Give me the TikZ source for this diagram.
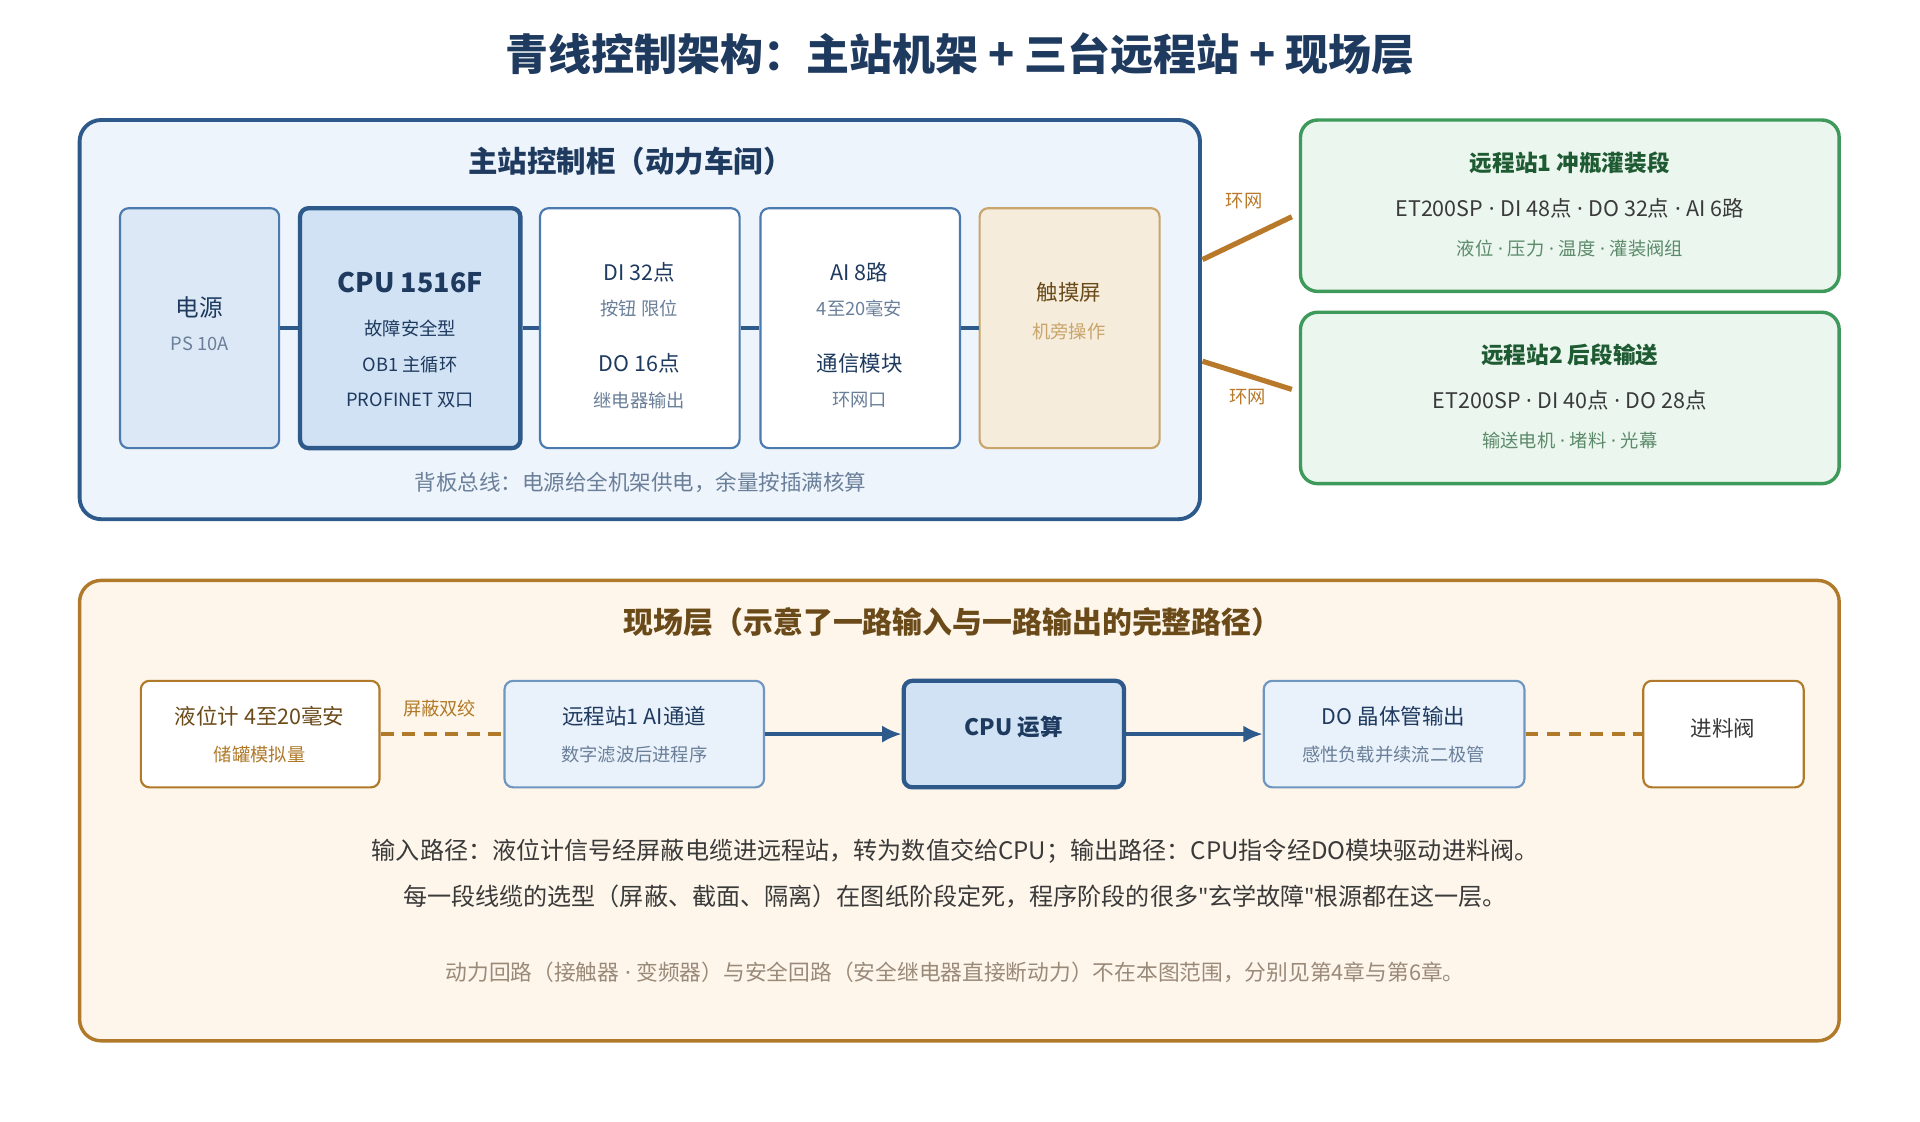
\documentclass[tikz,border=0pt]{standalone}
\usepackage{fontspec}
\setmainfont{Noto Sans CJK SC}
\newfontfamily\latinfont{Noto Sans}
\newcommand{\sep}{{\latinfont\ ·\ }}
\usetikzlibrary{arrows.meta}
\definecolor{navy}{HTML}{1F3A5F}
\definecolor{mainbd}{HTML}{2D5A8A}
\definecolor{mainbg}{HTML}{EEF4FB}
\definecolor{modbg}{HTML}{DCE8F5}
\definecolor{cpubg}{HTML}{D0E2F4}
\definecolor{modbd}{HTML}{4A7AAE}
\definecolor{subtx}{HTML}{6A7F99}
\definecolor{hmibg}{HTML}{F5ECDC}
\definecolor{hmibd}{HTML}{C9A56B}
\definecolor{grnbg}{HTML}{EAF6EE}
\definecolor{grnbd}{HTML}{3E9A5A}
\definecolor{grntx}{HTML}{1E5A32}
\definecolor{grnsub}{HTML}{5C8A6A}
\definecolor{ring}{HTML}{B87A2A}
\definecolor{fieldbg}{HTML}{FEF6EA}
\definecolor{fieldbd}{HTML}{B07A2A}
\definecolor{brtx}{HTML}{6B4A1A}
\definecolor{brsub}{HTML}{B07A2A}
\definecolor{dark}{HTML}{3A3A3A}
\definecolor{grey}{HTML}{9A8A7A}
\definecolor{chbg}{HTML}{E9F1FA}
\definecolor{chbd}{HTML}{6F96C0}
\tikzset{
  box/.style={draw, rounded corners=4pt, line width=1pt},
  main/.style={font=\fontsize{11}{13}\selectfont, text=navy},
  sub/.style={font=\fontsize{8.5}{10}\selectfont, text=subtx},
  link/.style={line width=2pt, draw=mainbd},
  flow/.style={-{Latex[length=9pt,width=8pt]}, line width=1.6pt, draw=mainbd},
  cable/.style={line width=1.6pt, draw=fieldbd, dash pattern=on 6pt off 4pt}
}
\begin{document}
\begin{tikzpicture}[x=0.02cm, y=-0.02cm]
\useasboundingbox[fill=white] (0,0) rectangle (1568,916);
% title
\node[font=\fontsize{20}{24}\selectfont\bfseries, text=navy] (title) at (784,44) {青线控制架构：主站机架 + 三台远程站 + 现场层};

% main cabinet
\draw[box, line width=1.8pt, draw=mainbd, fill=mainbg, rounded corners=10pt] (65,98) rectangle (980,424);
\node[font=\fontsize{13.7}{16}\selectfont\bfseries, text=navy] (cabt) at (515,132) {主站控制柜（动力车间）};
\node[box, fill=modbg, draw=modbd, minimum width=2.6cm, minimum height=3.92cm] (psu) at (163,268) {};
\node[box, fill=cpubg, draw=mainbd, line width=2pt, minimum width=3.6cm, minimum height=3.92cm] (cpu) at (335,268) {};
\node[box, fill=white, draw=modbd, minimum width=3.26cm, minimum height=3.92cm] (dido) at (522.5,268) {};
\node[box, fill=white, draw=modbd, minimum width=3.26cm, minimum height=3.92cm] (aicom) at (702.5,268) {};
\node[box, fill=hmibg, draw=hmibd, minimum width=2.94cm, minimum height=3.92cm] (hmi) at (873.5,268) {};
\draw[link] (psu) -- (cpu);
\draw[link] (cpu) -- (dido);
\draw[link] (dido) -- (aicom);
\draw[link] (aicom) -- (hmi);

\node[main] (psu-a) at (163,251) {电源};
\node[sub] (psu-b) at (163,281) {PS 10A};
\node[main, font=\fontsize{12.5}{15}\selectfont\bfseries] (cpu-a) at (335,231) {CPU 1516F};
\node[sub, text=navy] (cpu-b) at (335,268) {故障安全型};
\node[sub, text=navy] (cpu-c) at (335,298) {OB1 主循环};
\node[sub, text=navy] (cpu-d) at (335,327) {PROFINET 双口};
\node[main, font=\fontsize{10}{12}\selectfont] (di-a) at (522,222) {DI 32点};
\node[sub] (di-b) at (522,252) {按钮 限位};
\node[main, font=\fontsize{10}{12}\selectfont] (do-a) at (522,297) {DO 16点};
\node[sub] (do-b) at (522,327) {继电器输出};
\node[main, font=\fontsize{10}{12}\selectfont] (ai-a) at (702,222) {AI 8路};
\node[sub] (ai-b) at (702,252) {4至20毫安};
\node[main, font=\fontsize{10}{12}\selectfont] (com-a) at (702,297) {通信模块};
\node[sub] (com-b) at (702,327) {环网口};
\node[main, font=\fontsize{10}{12}\selectfont, text=brtx] (hmi-a) at (873,239) {触摸屏};
\node[sub, text=hmibd] (hmi-b) at (873,271) {机旁操作};
\node[sub, font=\fontsize{10}{11}\selectfont] (bus) at (523,394) {背板总线：电源给全机架供电，余量按插满核算};

% remote stations
\node[box, line width=1.6pt, draw=grnbd, fill=grnbg, rounded corners=8pt, minimum width=8.8cm, minimum height=2.8cm] (rs1) at (1282,168) {};
\node[box, line width=1.6pt, draw=grnbd, fill=grnbg, rounded corners=8pt, minimum width=8.8cm, minimum height=2.8cm] (rs2) at (1282,325) {};
\node[font=\fontsize{10.5}{12}\selectfont\bfseries, text=grntx] (rs1-a) at (1282,133) {远程站1 冲瓶灌装段};
\node[font=\fontsize{10}{12}\selectfont, text=dark] (rs1-b) at (1282,170) {ET200SP\sep DI 48点\sep DO 32点\sep AI 6路};
\node[sub, text=grnsub] (rs1-c) at (1282,203) {液位\sep 压力\sep 温度\sep 灌装阀组};
\node[font=\fontsize{10.5}{12}\selectfont\bfseries, text=grntx] (rs2-a) at (1282,290) {远程站2 后段输送};
\node[font=\fontsize{10}{12}\selectfont, text=dark] (rs2-b) at (1282,327) {ET200SP\sep DI 40点\sep DO 28点};
\node[sub, text=grnsub] (rs2-c) at (1282,360) {输送电机\sep 堵料\sep 光幕};
\coordinate (r1a) at (982,212); \coordinate (r1b) at (1055,177);
\coordinate (r2a) at (982,295); \coordinate (r2b) at (1055,318);
\draw[line width=2.4pt, draw=ring] (r1a) -- (r1b);
\draw[line width=2.4pt, draw=ring] (r2a) -- (r2b);
\node[sub, text=ring] (ring1) at (1016,164) {环网};
\node[sub, text=ring] (ring2) at (1019,324) {环网};

% field layer
\draw[box, line width=1.6pt, draw=fieldbd, fill=fieldbg, rounded corners=10pt] (65,474) rectangle (1502,850);
\node[font=\fontsize{13.9}{16}\selectfont\bfseries, text=brtx] (fldt) at (778,508) {现场层（示意了一路输入与一路输出的完整路径）};
\node[box, fill=white, draw=fieldbd, minimum width=3.9cm, minimum height=1.74cm] (lvl) at (212.5,599.5) {};
\node[box, fill=chbg, draw=chbd, minimum width=4.24cm, minimum height=1.74cm] (rsai) at (518,599.5) {};
\node[box, fill=cpubg, draw=mainbd, line width=2pt, minimum width=3.6cm, minimum height=1.74cm] (calc) at (828,599.5) {};
\node[box, fill=chbg, draw=chbd, minimum width=4.26cm, minimum height=1.74cm] (dout) at (1138.5,599.5) {};
\node[box, fill=white, draw=fieldbd, minimum width=2.62cm, minimum height=1.74cm] (valve) at (1407.5,599.5) {};
\draw[cable] (lvl) -- (rsai);
\draw[flow] (rsai) -- (calc);
\draw[flow] (calc) -- (dout);
\draw[cable] (dout) -- (valve);
\node[sub, text=brsub] (twp) at (359,579) {屏蔽双绞};
\node[main, font=\fontsize{10}{12}\selectfont, text=brtx] (lvl-a) at (212,585) {液位计 4至20毫安};
\node[sub, text=brsub] (lvl-b) at (212,616) {储罐模拟量};
\node[main, font=\fontsize{10}{12}\selectfont] (rsai-a) at (518,585) {远程站1 AI通道};
\node[sub] (rsai-b) at (518,616) {数字滤波后进程序};
\node[main, font=\fontsize{10.5}{12}\selectfont\bfseries] (calc-a) at (828,594) {CPU 运算};
\node[main, font=\fontsize{10}{12}\selectfont] (dout-a) at (1138,585) {DO 晶体管输出};
\node[sub] (dout-b) at (1138,616) {感性负载并续流二极管};
\node[main, font=\fontsize{10}{12}\selectfont, text=dark] (valve-a) at (1407,595) {进料阀};
\node[font=\fontsize{11.2}{13}\selectfont, text=dark] (note1) at (780,695) {输入路径：液位计信号经屏蔽电缆进远程站，转为数值交给CPU；输出路径：CPU指令经DO模块驱动进料阀。};
\node[font=\fontsize{11.2}{13}\selectfont, text=dark] (note2) at (780,732) {每一段线缆的选型（屏蔽、截面、隔离）在图纸阶段定死，程序阶段的很多{\latinfont\char"22}玄学故障{\latinfont\char"22}根源都在这一层。};
\node[font=\fontsize{10.1}{12}\selectfont, text=grey] (note3) at (780,794) {动力回路（接触器\sep 变频器）与安全回路（安全继电器直接断动力）不在本图范围，分别见第4章与第6章。};
\end{tikzpicture}
\end{document}
